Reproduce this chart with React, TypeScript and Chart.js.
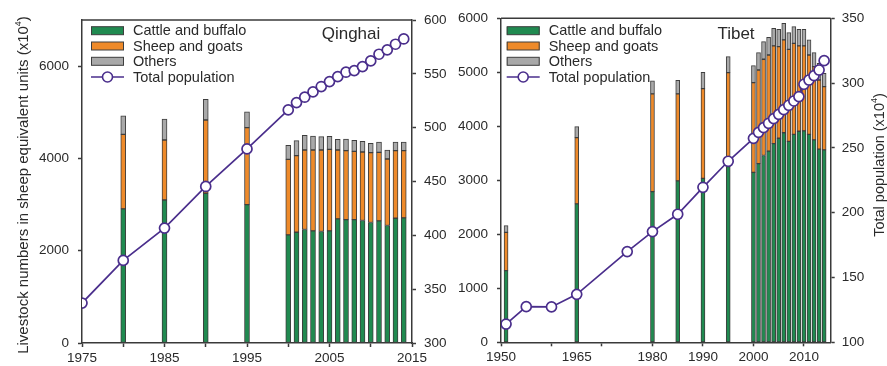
import React, { useEffect, useRef } from 'react';
import { Chart, registerables } from 'chart.js';
Chart.register(...registerables);

const FONT = '"Liberation Sans", Arial, Helvetica, sans-serif';
const GREEN = '#208a50';
const ORANGE = '#ee8a2a';
const GREY = '#a9a9a9';
const EDGE = '#3e3e3e';
const PURPLE = '#4a2e8c';
const AXIS = '#3a3a3a';
const TEXT = '#2a2a2a';

// ---- Qinghai ----
const qhBarYears = [1980, 1985, 1990, 1995, 2000, 2001, 2002, 2003, 2004, 2005, 2006, 2007, 2008, 2009, 2010, 2011, 2012, 2013, 2014];
const qhCattle = [2906, 3100, 3245, 3000, 2344, 2401, 2459, 2430, 2416, 2430, 2690, 2675, 2675, 2654, 2611, 2647, 2546, 2704, 2711];
const qhSheep = [1616, 1300, 1587, 1666, 1637, 1659, 1724, 1753, 1767, 1767, 1493, 1493, 1479, 1485, 1514, 1485, 1442, 1464, 1457];
const qhOthers = [403, 453, 447, 346, 303, 325, 317, 303, 288, 281, 230, 252, 238, 231, 202, 224, 195, 188, 188];
const qhPopYears = [1975, 1980, 1985, 1990, 1995, 2000, 2001, 2002, 2003, 2004, 2005, 2006, 2007, 2008, 2009, 2010, 2011, 2012, 2013, 2014];
const qhPop = [337.1, 376.7, 406.7, 445.4, 480.3, 516.5, 523.3, 528.3, 533.2, 538.2, 542.8, 547.4, 551.5, 553.0, 556.7, 562.0, 568.2, 572.2, 577.5, 582.4];
const qhXTicks = [1975, 1980, 1985, 1990, 1995, 2000, 2005, 2010, 2015];
const qhXLabels = [1975, 1985, 1995, 2005, 2015];
const qhYTicks = [0, 2000, 4000, 6000];
const qhY2Ticks = [300, 350, 400, 450, 500, 550, 600];

// ---- Tibet ----
const tbBarYears = [1951, 1965, 1980, 1985, 1990, 1995, 2000, 2001, 2002, 2003, 2004, 2005, 2006, 2007, 2008, 2009, 2010, 2011, 2012, 2013, 2014];
const tbCattle = [1327, 2562, 2790, 2988, 3037, 3253, 3148, 3310, 3460, 3540, 3680, 3778, 3880, 3720, 3850, 3908, 3916, 3850, 3748, 3577, 3562];
const tbSheep = [710, 1228, 1809, 1611, 1661, 1741, 1661, 1733, 1781, 1781, 1808, 1697, 1719, 1706, 1687, 1580, 1572, 1471, 1357, 1281, 1173];
const tbOthers = [123, 204, 241, 253, 302, 296, 314, 321, 327, 327, 327, 321, 308, 309, 309, 308, 308, 278, 259, 309, 246];
const tbPopYears = [1951, 1955, 1960, 1965, 1975, 1980, 1985, 1990, 1995, 2000, 2001, 2002, 2003, 2004, 2005, 2006, 2007, 2008, 2009, 2010, 2011, 2012, 2013, 2014];
const tbPop = [114.1, 127.5, 127.3, 137.0, 170.0, 185.4, 198.8, 219.6, 239.7, 257.4, 262.0, 265.6, 269.0, 272.6, 275.9, 279.5, 282.9, 286.2, 289.6, 299.1, 302.4, 305.8, 310.1, 317.3];
const tbXTicks = [1950, 1960, 1965, 1970, 1980, 1990, 2000, 2010];
const tbXLabels = [1950, 1965, 1980, 1990, 2000, 2010];
const tbYTicks = [0, 1000, 2000, 3000, 4000, 5000, 6000];
const tbY2Ticks = [100, 150, 200, 250, 300, 350];

const legendLabels = ['Cattle and buffalo', 'Sheep and goats', 'Others', 'Total population'];
const yTitleMain = 'Livestock numbers in sheep equivalent units (x10';
const y2TitleMain = 'Total population (x10';

type Panel = {
  width: number;
  barYears: number[]; cattle: number[]; sheep: number[]; others: number[];
  popYears: number[]; pop: number[];
  xMin: number; xMax: number; xTicks: number[]; xLabels: number[]; hiddenTickMarks: number[];
  yMax: number; yTicks: number[]; y2Min: number; y2Max: number; y2Ticks: number[];
  padTop: number; xHeight: number; yWidth: number; y2Width: number;
  barThickness: number;
  title: string; titleX: number;
  legendX: number;
  yTitleX?: number; y2TitleX?: number;
  yPad: number; y2Pad: number;
};

function drawRotTitle(ctx: CanvasRenderingContext2D, x: number, y: number, main: string, sup: string, tail: string, size: number) {
  ctx.save();
  ctx.fillStyle = TEXT;
  ctx.textBaseline = 'middle';
  ctx.textAlign = 'left';
  ctx.font = `${size}px ${FONT}`;
  const w1 = ctx.measureText(main).width;
  const w3 = ctx.measureText(tail).width;
  ctx.font = `${Math.round(size * 0.62)}px ${FONT}`;
  const w2 = ctx.measureText(sup).width;
  const total = w1 + w2 + w3;
  ctx.translate(x, y);
  ctx.rotate(-Math.PI / 2);
  let cx = -total / 2;
  ctx.font = `${size}px ${FONT}`;
  ctx.fillText(main, cx, 0);
  cx += w1;
  ctx.font = `${Math.round(size * 0.62)}px ${FONT}`;
  ctx.fillText(sup, cx, -size * 0.38);
  cx += w2;
  ctx.font = `${size}px ${FONT}`;
  ctx.fillText(tail, cx, 0);
  ctx.restore();
}

function makeChart(canvas: HTMLCanvasElement, p: Panel) {
  const deco = {
    id: 'deco',
    afterDraw(chart: any) {
      const ctx: CanvasRenderingContext2D = chart.ctx;
      const a = chart.chartArea;
      ctx.save();
      // top frame line
      ctx.strokeStyle = AXIS;
      ctx.lineWidth = 1.5;
      ctx.beginPath();
      ctx.moveTo(a.left, a.top);
      ctx.lineTo(a.right, a.top);
      ctx.stroke();
      // panel title
      ctx.fillStyle = TEXT;
      ctx.font = `17px ${FONT}`;
      ctx.textAlign = 'center';
      ctx.textBaseline = 'middle';
      ctx.fillText(p.title, p.titleX, 34);
      // legend
      const bx = a.left + p.legendX;
      const bw = 33;
      const rows = [30.7, 46, 61.3, 77];
      const cols = [GREEN, ORANGE, GREY];
      ctx.font = `14.5px ${FONT}`;
      ctx.textAlign = 'left';
      for (let i = 0; i < 4; i++) {
        const y = rows[i];
        if (i < 3) {
          ctx.fillStyle = cols[i];
          ctx.fillRect(bx, y - 4, bw, 8);
          ctx.strokeStyle = EDGE;
          ctx.lineWidth = 1;
          ctx.strokeRect(bx + 0.5, y - 4, bw - 1, 8);
        } else {
          ctx.strokeStyle = PURPLE;
          ctx.lineWidth = 1.6;
          ctx.beginPath();
          ctx.moveTo(bx, y);
          ctx.lineTo(bx + bw, y);
          ctx.stroke();
          ctx.beginPath();
          ctx.fillStyle = '#ffffff';
          ctx.arc(bx + bw / 2, y, 5, 0, Math.PI * 2);
          ctx.fill();
          ctx.stroke();
        }
        ctx.fillStyle = TEXT;
        ctx.fillText(legendLabels[i], bx + bw + 9, y + 0.5);
      }
      // axis titles
      if (p.yTitleX !== undefined) drawRotTitle(ctx, p.yTitleX, 185, yTitleMain, '4', ')', 15);
      if (p.y2TitleX !== undefined) drawRotTitle(ctx, p.y2TitleX, 165, y2TitleMain, '4', ')', 14.5);
      ctx.restore();
    },
  };

  const tickFont = { family: FONT, size: 13.5 };
  const barDs = (label: string, vals: number[], color: string) => ({
    type: 'bar' as const,
    label,
    data: p.barYears.map((x, i) => ({ x, y: vals[i] })),
    backgroundColor: color,
    borderColor: EDGE,
    borderWidth: 1,
    borderSkipped: false as const,
    barThickness: p.barThickness,
    yAxisID: 'y',
    order: 1,
  });

  return new Chart(canvas, {
    type: 'bar',
    data: {
      datasets: [
        {
          type: 'line',
          label: 'Total population',
          data: p.popYears.map((x, i) => ({ x, y: p.pop[i] })),
          borderColor: PURPLE,
          borderWidth: 1.7,
          pointRadius: 5,
          pointBorderWidth: 1.7,
          pointBackgroundColor: '#ffffff',
          pointBorderColor: PURPLE,
          yAxisID: 'y2',
          order: 0,
        } as any,
        barDs('Cattle and buffalo', p.cattle, GREEN),
        barDs('Sheep and goats', p.sheep, ORANGE),
        barDs('Others', p.others, GREY),
      ],
    },
    options: {
      animation: false,
      responsive: false,
      maintainAspectRatio: false,
      layout: { padding: { top: p.padTop, left: 0, right: 0, bottom: 0 } },
      plugins: { legend: { display: false }, tooltip: { enabled: false } },
      scales: {
        x: {
          type: 'linear',
          min: p.xMin,
          max: p.xMax,
          stacked: true,
          offset: false,
          afterBuildTicks: (s: any) => { s.ticks = p.xTicks.map((v) => ({ value: v })); },
          afterFit: (s: any) => { s.height = p.xHeight; },
          grid: {
            offset: false,
            drawOnChartArea: false,
            drawTicks: true,
            tickLength: 4,
            tickWidth: 1.5,
            tickColor: (c: any) => (c.tick && p.hiddenTickMarks.includes(c.tick.value) ? 'rgba(0,0,0,0)' : AXIS),
          },
          border: { display: true, color: AXIS, width: 1.5 },
          ticks: {
            font: tickFont,
            color: TEXT,
            padding: 3,
            maxRotation: 0,
            autoSkip: false,
            callback: (v: any) => (p.xLabels.includes(Number(v)) ? String(v) : ''),
          },
        },
        y: {
          type: 'linear',
          position: 'left',
          stacked: true,
          min: 0,
          max: p.yMax,
          afterBuildTicks: (s: any) => { s.ticks = p.yTicks.map((v) => ({ value: v })); },
          afterFit: (s: any) => { s.width = p.yWidth; },
          grid: { drawOnChartArea: false, drawTicks: true, tickLength: 4, tickWidth: 1.5, tickColor: AXIS },
          border: { display: true, color: AXIS, width: 1.5 },
          ticks: { font: tickFont, color: TEXT, padding: p.yPad, callback: (v: any) => String(v) },
        },
        y2: {
          type: 'linear',
          position: 'right',
          stacked: false,
          min: p.y2Min,
          max: p.y2Max,
          afterBuildTicks: (s: any) => { s.ticks = p.y2Ticks.map((v) => ({ value: v })); },
          afterFit: (s: any) => { s.width = p.y2Width; },
          grid: { drawOnChartArea: false, drawTicks: true, tickLength: 4, tickWidth: 1.5, tickColor: AXIS },
          border: { display: true, color: AXIS, width: 1.5 },
          ticks: { font: tickFont, color: TEXT, padding: p.y2Pad, callback: (v: any) => String(v) },
        },
      },
    } as any,
    plugins: [deco],
  });
}

const leftPanel: Panel = {
  width: 455,
  barYears: qhBarYears, cattle: qhCattle, sheep: qhSheep, others: qhOthers,
  popYears: qhPopYears, pop: qhPop,
  xMin: 1975, xMax: 2015, xTicks: qhXTicks, xLabels: qhXLabels, hiddenTickMarks: [],
  yMax: 7000, yTicks: qhYTicks, y2Min: 300, y2Max: 600, y2Ticks: qhY2Ticks,
  padTop: 20, xHeight: 23, yWidth: 82, y2Width: 43,
  barThickness: 5,
  title: 'Qinghai', titleX: 351,
  legendX: 9,
  yTitleX: 24,
  yPad: 9, y2Pad: 8,
};

const rightPanel: Panel = {
  width: 432,
  barYears: tbBarYears, cattle: tbCattle, sheep: tbSheep, others: tbOthers,
  popYears: tbPopYears, pop: tbPop,
  xMin: 1950, xMax: 2015.3, xTicks: tbXTicks, xLabels: tbXLabels, hiddenTickMarks: [1965],
  yMax: 6000, yTicks: tbYTicks, y2Min: 100, y2Max: 350, y2Ticks: tbY2Ticks,
  padTop: 18.3, xHeight: 23.7, yWidth: 46, y2Width: 56.3,
  barThickness: 4,
  title: 'Tibet', titleX: 281,
  legendX: 5.7,
  y2TitleX: 425,
  yPad: 9, y2Pad: 7,
};

function PanelChart({ panel, left }: { panel: Panel; left: number }) {
  const ref = useRef<HTMLCanvasElement | null>(null);
  useEffect(() => {
    if (!ref.current) return;
    const chart = makeChart(ref.current, panel);
    return () => chart.destroy();
  }, [panel]);
  return (
    <div style={{ position: 'absolute', left, top: 0, width: panel.width, height: 366 }}>
      <canvas ref={ref} width={panel.width} height={366} style={{ width: panel.width, height: 366, display: 'block' }} />
    </div>
  );
}

export default function App() {
  return (
    <div style={{ position: 'absolute', left: 0, top: 0, width: 887, height: 366, background: '#ffffff', overflow: 'hidden' }}>
      <PanelChart panel={leftPanel} left={0} />
      <PanelChart panel={rightPanel} left={455} />
    </div>
  );
}
